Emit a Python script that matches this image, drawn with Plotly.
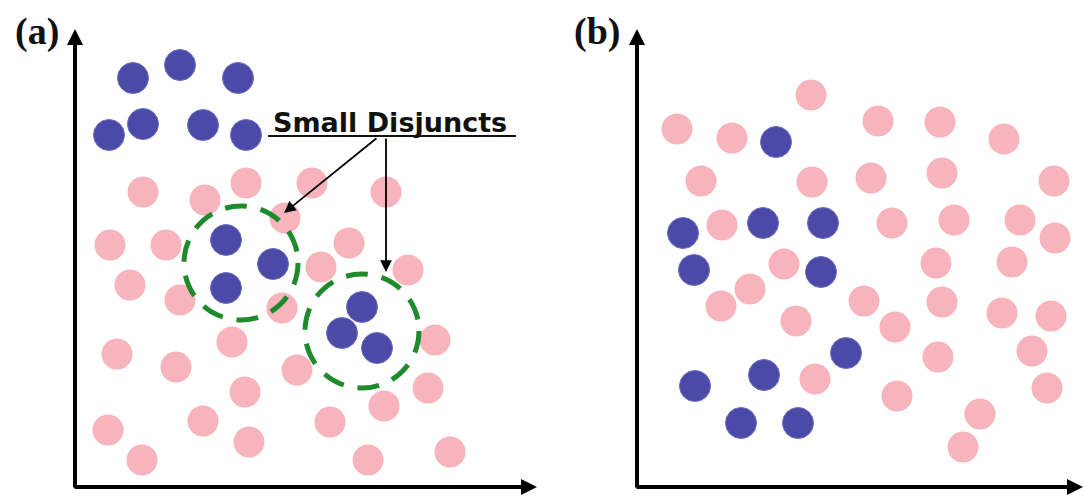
import plotly.graph_objects as go

# ---------------- data (feature-space coordinates, origin at axes corner) ----------------
# Panel (a)
a_blue_x = [58, 105, 163, 34, 68, 128, 171, 151, 198, 151, 287, 267, 302]
a_blue_y = [409, 422, 409, 352, 363, 362, 352, 247, 223, 199, 180, 154, 139]
a_pink_x = [68, 130, 171, 237, 311, 210, 35, 91, 274, 246, 333, 55, 105, 207, 360,
            157, 42, 101, 222, 170, 353, 309, 128, 255, 33, 174, 67, 293, 375]
a_pink_y = [295, 287, 304, 304, 295, 269, 242, 242, 244, 220, 217, 202, 187, 179, 147,
            145, 133, 120, 117, 95, 99, 81, 66, 65, 57, 45, 27, 27, 35]
# small disjunct clusters (center x, center y, radius)
disj_cx = [166, 287]
disj_cy = [224, 156]
disj_r = [57, 57]

# Panel (b)
b_blue_x = [139, 46, 126, 186, 57, 184, 209, 58, 127, 104, 161]
b_blue_y = [345, 254, 264, 264, 217, 215, 134, 101, 112, 64, 64]
b_pink_x = [174, 40, 95, 241, 303, 367, 64, 175, 234, 305, 417, 85, 255, 317, 383,
            418, 147, 299, 375, 113, 84, 159, 227, 305, 258, 365, 414, 301, 395, 178,
            260, 410, 343, 326]
b_pink_y = [392, 358, 349, 366, 365, 348, 306, 305, 309, 314, 306, 262, 264, 267, 267,
            249, 223, 224, 225, 198, 181, 166, 186, 185, 160, 174, 171, 130, 136, 108,
            91, 99, 73, 40]

panel_labels = ["(a)", "(b)"]
callout_text = "Small Disjuncts"

# ---------------- styles ----------------
PINK = "#f8b4bc"
BLUE = "#4b4aa6"
GREEN = "#1f8a2c"
DOT = 31

fig = go.Figure()

def dots(x, y, color, xa, ya, outline=None):
    fig.add_trace(go.Scatter(
        x=x, y=y, mode="markers", xaxis=xa, yaxis=ya, cliponaxis=False,
        marker=dict(size=DOT, color=color,
                    line=dict(width=1 if outline else 0, color=outline or color)),
        hoverinfo="skip", showlegend=False))

dots(a_pink_x, a_pink_y, PINK, "x", "y")
dots(a_blue_x, a_blue_y, BLUE, "x", "y", outline="#6d6cc4")
dots(b_pink_x, b_pink_y, PINK, "x2", "y2")
dots(b_blue_x, b_blue_y, BLUE, "x2", "y2", outline="#6d6cc4")

shapes = []
for cx, cy, r in zip(disj_cx, disj_cy, disj_r):
    shapes.append(dict(type="circle", xref="x", yref="y",
                       x0=cx - r, x1=cx + r, y0=cy - r, y1=cy + r,
                       line=dict(color=GREEN, width=5, dash="22px,14px")))

# underline of the callout text
ul_x = [193, 441]
ul_y = 351
shapes.append(dict(type="line", xref="x", yref="y", x0=ul_x[0], x1=ul_x[1],
                   y0=ul_y, y1=ul_y, line=dict(color="#111111", width=2)))

annotations = []

def arrow(xref, yref, tail, tip, width, size):
    annotations.append(dict(
        xref=xref, yref=yref, axref=xref, ayref=yref,
        x=tip[0], y=tip[1], ax=tail[0], ay=tail[1], text="",
        showarrow=True, arrowhead=2, arrowwidth=width, arrowsize=size,
        arrowcolor="#000000", standoff=0, startstandoff=0))

# coordinate axes with arrow heads
arrow("x", "y", (0, -2), (0, 458), 4, 0.8)
arrow("x", "y", (-2, 0), (462, 0), 4, 0.8)
arrow("x2", "y2", (0, -2), (0, 458), 4, 0.8)
arrow("x2", "y2", (-2, 0), (446, 0), 4, 0.8)

# callout arrows pointing to the small disjuncts
arrow("x", "y", (303, 350), (209, 274), 1.8, 1.3)
arrow("x", "y", (311, 350), (311, 215), 1.8, 1.3)

annotations.append(dict(xref="x", yref="y", x=315, y=365, text="<b>" + callout_text + "</b>",
                        showarrow=False, xanchor="center", yanchor="middle",
                        font=dict(family="DejaVu Sans", size=27, color="#111111")))

annotations.append(dict(xref="x", yref="y", x=-38, y=456, text="<b>" + panel_labels[0] + "</b>",
                        showarrow=False, xanchor="center", yanchor="middle",
                        font=dict(family="Liberation Serif", size=38, color="#111111")))
annotations.append(dict(xref="x2", yref="y2", x=-40, y=456, text="<b>" + panel_labels[1] + "</b>",
                        showarrow=False, xanchor="center", yanchor="middle",
                        font=dict(family="Liberation Serif", size=38, color="#111111")))

ax_common = dict(visible=False, showgrid=False, zeroline=False, fixedrange=True)
fig.update_layout(
    width=1084, height=496,
    margin=dict(l=0, r=0, t=0, b=0),
    paper_bgcolor="white", plot_bgcolor="white",
    xaxis=dict(domain=[0, 0.5], range=[-75, 467], anchor="y", **ax_common),
    yaxis=dict(domain=[0, 1], range=[-9, 487], anchor="x", **ax_common),
    xaxis2=dict(domain=[0.5, 1], range=[-95, 447], anchor="y2", **ax_common),
    yaxis2=dict(domain=[0, 1], range=[-9, 487], anchor="x2", **ax_common),
    shapes=shapes, annotations=annotations, showlegend=False,
)

fig.write_html("out.html", config={"displayModeBar": False},
               post_script="document.body.style.margin='0';")
